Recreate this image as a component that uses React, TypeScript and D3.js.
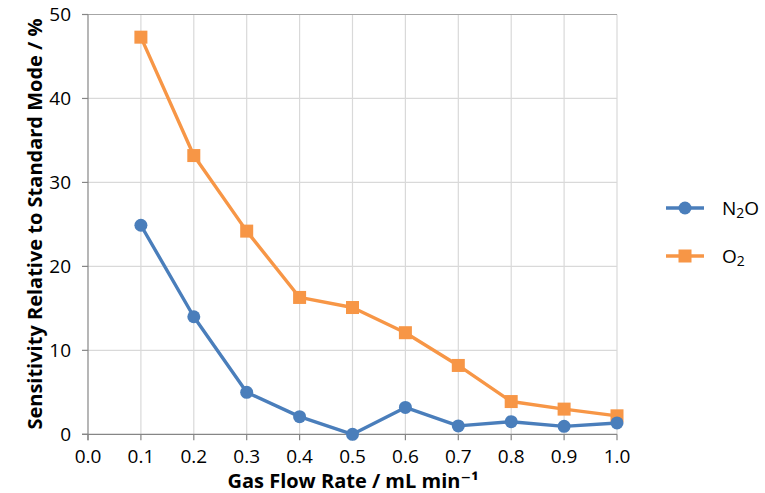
import React from "react";
import * as d3 from "d3";

const flowRates = [0.1, 0.2, 0.3, 0.4, 0.5, 0.6, 0.7, 0.8, 0.9, 1.0];
const n2oValues = [24.9, 14.0, 5.0, 2.1, 0.0, 3.2, 1.0, 1.5, 0.95, 1.35];
const o2Values = [47.3, 33.2, 24.2, 16.3, 15.1, 12.1, 8.2, 3.9, 3.0, 2.2];
const xTicks = [0, 0.1, 0.2, 0.3, 0.4, 0.5, 0.6, 0.7, 0.8, 0.9, 1.0];
const yTicks = [0, 10, 20, 30, 40, 50];

const W = 765;
const H = 493;
const left = 88;
const right = 617;
const top = 14.5;
const bottom = 434.3;

const font = "'Open Sans', 'DejaVu Sans', sans-serif";
const blue = "#4A7EBB";
const orange = "#F79646";

export default function App() {
  const x = d3.scaleLinear().domain([0, 1]).range([left, right]);
  const y = d3.scaleLinear().domain([0, 50]).range([bottom, top]);
  const line = d3
    .line<[number, number]>()
    .x((d) => x(d[0]))
    .y((d) => y(d[1]));
  const n2o = flowRates.map((f, i) => [f, n2oValues[i]] as [number, number]);
  const o2 = flowRates.map((f, i) => [f, o2Values[i]] as [number, number]);

  return (
    <svg
      width={W}
      height={H}
      style={{ position: "absolute", left: 0, top: 0, background: "#fff" }}
      fontFamily={font}
    >
      {/* grid */}
      {xTicks.slice(1).map((t) => (
        <line key={"gx" + t} x1={x(t)} x2={x(t)} y1={top} y2={bottom} stroke="#D9D9D9" strokeWidth={1.2} />
      ))}
      {yTicks.slice(1).map((t) => (
        <line key={"gy" + t} x1={left} x2={right} y1={y(t)} y2={y(t)} stroke={t === 50 ? "#A6A6A6" : "#D9D9D9"} strokeWidth={1.2} />
      ))}
      {/* axes */}
      <line x1={left} x2={left} y1={top} y2={bottom + 6} stroke="#868686" strokeWidth={1.2} />
      <line x1={left - 6} x2={right} y1={bottom} y2={bottom} stroke="#868686" strokeWidth={1.2} />
      {yTicks.map((t) => (
        <g key={"yt" + t}>
          <line x1={left - 6} x2={left} y1={y(t)} y2={y(t)} stroke="#868686" strokeWidth={1.2} />
          <text x={left - 17} y={y(t)} dy="0.36em" textAnchor="end" fontSize={19} fill="#000">
            {t}
          </text>
        </g>
      ))}
      {xTicks.map((t) => (
        <g key={"xt" + t}>
          <line x1={x(t)} x2={x(t)} y1={bottom} y2={bottom + 6} stroke="#868686" strokeWidth={1.2} />
          <text x={x(t)} y={463} textAnchor="middle" fontSize={19} fill="#000">
            {t.toFixed(1)}
          </text>
        </g>
      ))}
      {/* axis titles */}
      <text x={353} y={488} textAnchor="middle" fontSize={20} fontWeight="bold">
        Gas Flow Rate / mL min⁻¹
      </text>
      <text
        transform={`translate(42, 224) rotate(-90)`}
        textAnchor="middle"
        fontSize={20}
        fontWeight="bold"
      >
        Sensitivity Relative to Standard Mode / %
      </text>
      {/* series */}
      <path d={line(o2) || ""} fill="none" stroke={orange} strokeWidth={3.4} strokeLinejoin="round" />
      {o2.map((d, i) => (
        <rect key={"o" + i} x={x(d[0]) - 6.5} y={y(d[1]) - 6.5} width={13} height={13} fill={orange} />
      ))}
      <path d={line(n2o) || ""} fill="none" stroke={blue} strokeWidth={3.4} strokeLinejoin="round" />
      {n2o.map((d, i) => (
        <circle key={"n" + i} cx={x(d[0])} cy={y(d[1])} r={6.5} fill={blue} />
      ))}
      {/* legend */}
      <g>
        <line x1={666} x2={704} y1={208} y2={208} stroke={blue} strokeWidth={3.4} />
        <circle cx={685} cy={208} r={6.5} fill={blue} />
        <text x={722} y={208} dy="0.36em" fontSize={19}>
          N<tspan fontSize={14} dy="3">2</tspan><tspan dy="-3">O</tspan>
        </text>
        <line x1={666} x2={704} y1={256} y2={256} stroke={orange} strokeWidth={3.4} />
        <rect x={678.5} y={249.5} width={13} height={13} fill={orange} />
        <text x={722} y={256} dy="0.36em" fontSize={19}>
          O<tspan fontSize={14} dy="3">2</tspan>
        </text>
      </g>
    </svg>
  );
}
